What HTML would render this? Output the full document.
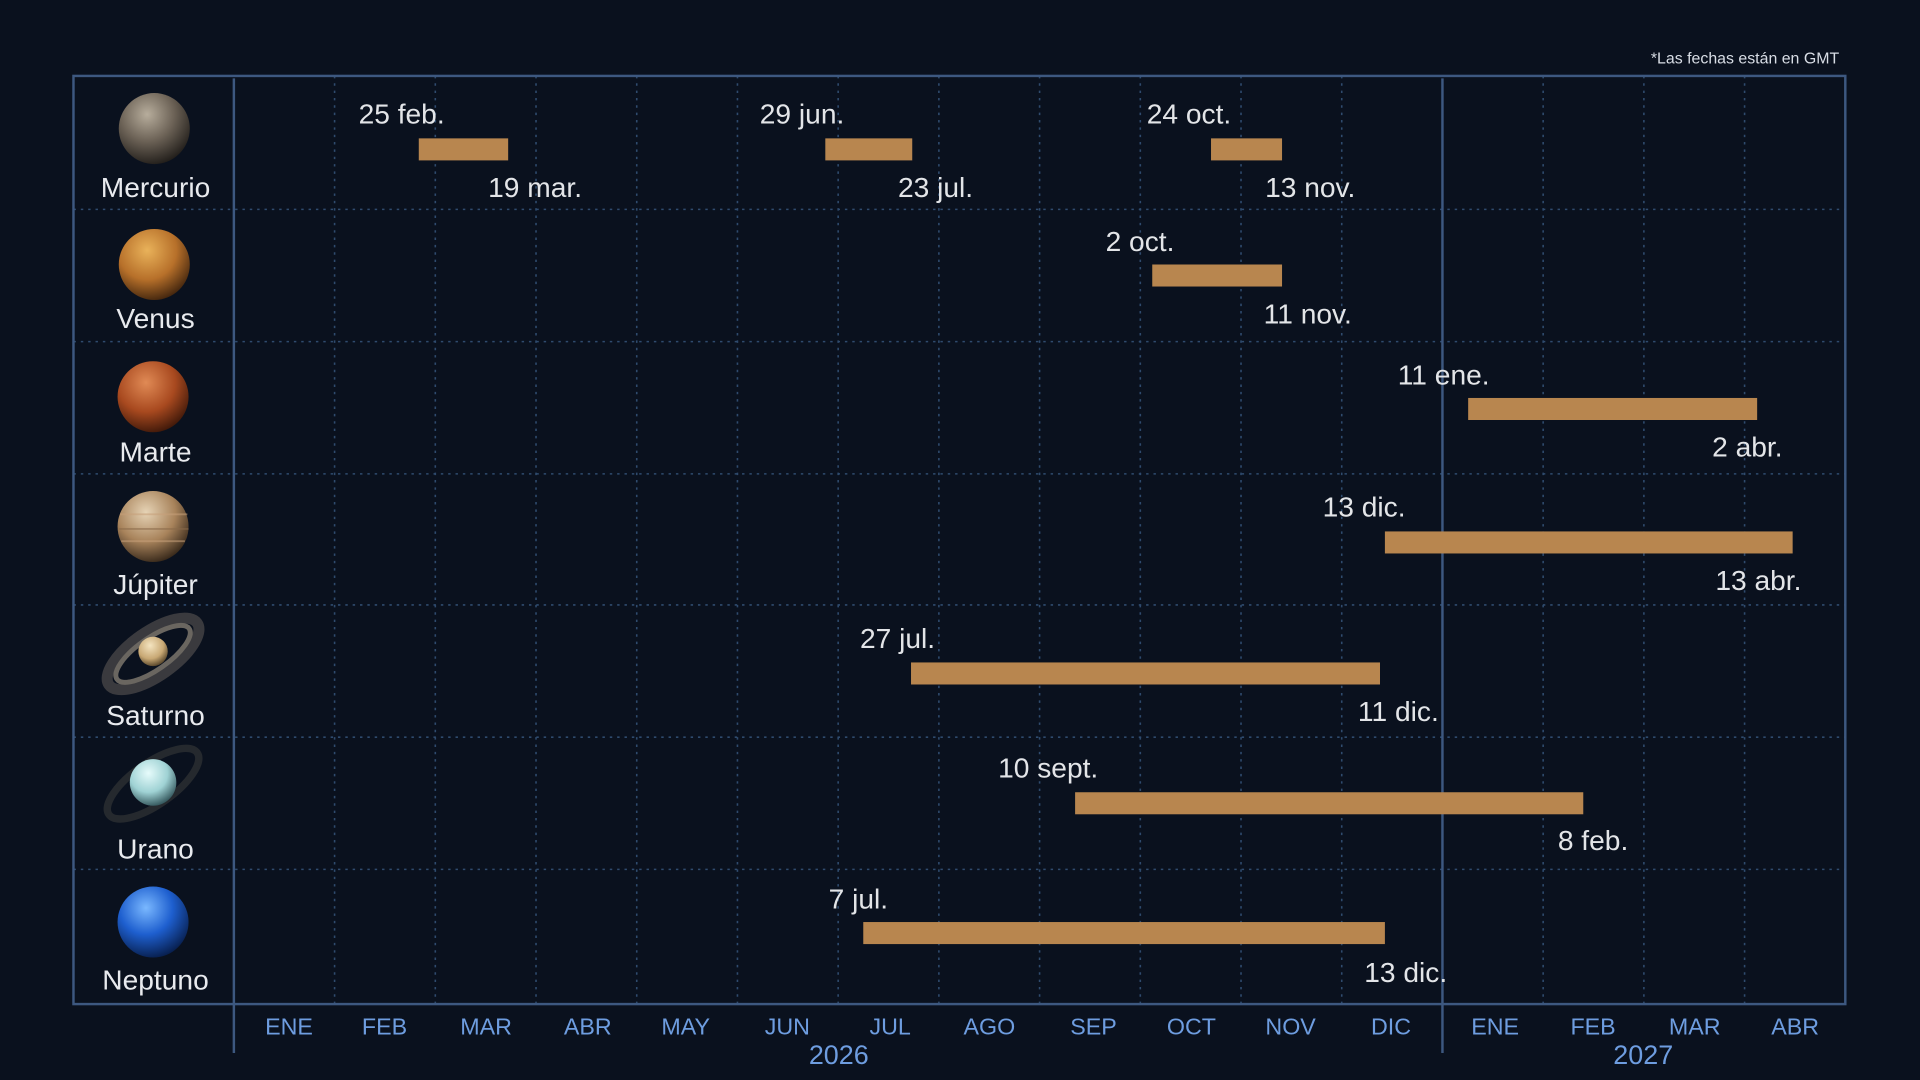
<!DOCTYPE html>
<html><head><meta charset="utf-8"><style>
html,body{margin:0;padding:0;background:#0a111e;}
svg{display:block}
text{font-family:"Liberation Sans",sans-serif;}
</style></head><body>
<svg width="1920" height="1080" viewBox="0 0 1568 882" xmlns="http://www.w3.org/2000/svg">
<defs>
<radialGradient id="gMe" cx="0.4" cy="0.3" r="0.75"><stop offset="0" stop-color="#b7ad9c"/><stop offset="0.5" stop-color="#6d6357"/><stop offset="1" stop-color="#1c1916"/></radialGradient>
<radialGradient id="gVe" cx="0.4" cy="0.3" r="0.75"><stop offset="0" stop-color="#e9b25a"/><stop offset="0.55" stop-color="#b7702a"/><stop offset="1" stop-color="#3a200c"/></radialGradient>
<radialGradient id="gMa" cx="0.4" cy="0.3" r="0.75"><stop offset="0" stop-color="#e08a55"/><stop offset="0.55" stop-color="#a8491f"/><stop offset="1" stop-color="#381508"/></radialGradient>
<radialGradient id="gJu" cx="0.4" cy="0.3" r="0.75"><stop offset="0" stop-color="#e6d3b5"/><stop offset="0.55" stop-color="#a8835b"/><stop offset="1" stop-color="#2e2115"/></radialGradient>
<radialGradient id="gSa" cx="0.4" cy="0.3" r="0.75"><stop offset="0" stop-color="#f4e4c0"/><stop offset="0.6" stop-color="#c8a874"/><stop offset="1" stop-color="#4a3a22"/></radialGradient>
<radialGradient id="gUr" cx="0.4" cy="0.3" r="0.75"><stop offset="0" stop-color="#e6fbfb"/><stop offset="0.55" stop-color="#9fd2d4"/><stop offset="1" stop-color="#2b4c52"/></radialGradient>
<radialGradient id="gNe" cx="0.4" cy="0.3" r="0.75"><stop offset="0" stop-color="#7ab8ff"/><stop offset="0.5" stop-color="#1e5fcf"/><stop offset="1" stop-color="#061a44"/></radialGradient>
</defs>
<rect width="1568" height="882" fill="#0a111e"/>
<text x="1502" y="52" font-size="13" fill="#d8dde5" text-anchor="end">*Las fechas están en GMT</text>
<!-- grid verticals -->
<g stroke="#2f4b6e" stroke-width="1.3" stroke-dasharray="2,4">
<line x1="273.25" y1="62" x2="273.25" y2="820"/><line x1="355.5" y1="62" x2="355.5" y2="820"/><line x1="437.75" y1="62" x2="437.75" y2="820"/><line x1="520" y1="62" x2="520" y2="820"/><line x1="602.25" y1="62" x2="602.25" y2="820"/><line x1="684.5" y1="62" x2="684.5" y2="820"/><line x1="766.75" y1="62" x2="766.75" y2="820"/><line x1="849" y1="62" x2="849" y2="820"/><line x1="931.25" y1="62" x2="931.25" y2="820"/><line x1="1013.5" y1="62" x2="1013.5" y2="820"/><line x1="1095.75" y1="62" x2="1095.75" y2="820"/><line x1="1260.25" y1="62" x2="1260.25" y2="820"/><line x1="1342.5" y1="62" x2="1342.5" y2="820"/><line x1="1424.75" y1="62" x2="1424.75" y2="820"/>
<line x1="60" y1="171" x2="1507" y2="171"/><line x1="60" y1="279" x2="1507" y2="279"/><line x1="60" y1="387" x2="1507" y2="387"/><line x1="60" y1="494" x2="1507" y2="494"/><line x1="60" y1="602" x2="1507" y2="602"/><line x1="60" y1="710" x2="1507" y2="710"/>
</g>
<rect x="60" y="62" width="1447" height="758" fill="none" stroke="#3d5880" stroke-width="2"/>
<line x1="191" y1="64" x2="191" y2="860" stroke="#3d5880" stroke-width="2"/>
<line x1="1178" y1="64" x2="1178" y2="860" stroke="#3d5880" stroke-width="2"/>
<!-- bars -->
<g fill="#b8864f">
<rect x="342" y="113" width="73" height="18"/><rect x="674" y="113" width="71" height="18"/><rect x="989" y="113" width="58" height="18"/>
<rect x="941" y="216" width="106" height="18"/>
<rect x="1199" y="325" width="236" height="18"/>
<rect x="1131" y="434" width="333" height="18"/>
<rect x="744" y="541" width="383" height="18"/>
<rect x="878" y="647" width="415" height="18"/>
<rect x="705" y="753" width="426" height="18"/>
</g>
<g font-size="23" fill="#e3e5e8" text-anchor="middle">
<text x="328" y="101">25 feb.</text><text x="437" y="161">19 mar.</text>
<text x="655" y="101">29 jun.</text><text x="764" y="161">23 jul.</text>
<text x="971" y="101">24 oct.</text><text x="1070" y="161">13 nov.</text>
<text x="931" y="205">2 oct.</text><text x="1068" y="264">11 nov.</text>
<text x="1179" y="314">11 ene.</text><text x="1427" y="373">2 abr.</text>
<text x="1114" y="422">13 dic.</text><text x="1436" y="482">13 abr.</text>
<text x="733" y="529">27 jul.</text><text x="1142" y="589">11 dic.</text>
<text x="856" y="635">10 sept.</text><text x="1301" y="694">8 feb.</text>
<text x="701" y="742">7 jul.</text><text x="1148" y="802">13 dic.</text>
</g>
<!-- planets -->
<circle cx="126" cy="105" r="29" fill="url(#gMe)"/>
<circle cx="126" cy="216" r="29" fill="url(#gVe)"/>
<circle cx="125" cy="324" r="29" fill="url(#gMa)"/>
<circle cx="125" cy="430" r="29" fill="url(#gJu)"/>
<g stroke="#d8c8a8" stroke-width="1.5" fill="none" opacity="0.55">
<line x1="98" y1="420" x2="153" y2="420" stroke="#c7a07a"/><line x1="97" y1="432" x2="154" y2="432" stroke="#8a6a4a"/><line x1="99" y1="442" x2="151" y2="442" stroke="#c7a07a"/>
</g>
<g transform="rotate(-35 125 534)" fill="none">
<ellipse cx="125" cy="534" rx="44" ry="18" stroke="#3a3a3e" stroke-width="9"/>
<ellipse cx="125" cy="534" rx="36" ry="13" stroke="#6a6660" stroke-width="4"/>
</g>
<circle cx="125" cy="532" r="12" fill="url(#gSa)"/>
<g transform="rotate(-35 125 640)" fill="none">
<ellipse cx="125" cy="640" rx="44" ry="17" stroke="#25292e" stroke-width="6"/>
</g>
<circle cx="125" cy="639" r="19" fill="url(#gUr)"/>
<circle cx="125" cy="753" r="29" fill="url(#gNe)"/>
<g font-size="23" fill="#e8eaee" text-anchor="middle">
<text x="127" y="161">Mercurio</text><text x="127" y="268">Venus</text><text x="127" y="377">Marte</text><text x="127" y="485">Júpiter</text><text x="127" y="592">Saturno</text><text x="127" y="701">Urano</text><text x="127" y="808">Neptuno</text>
</g>
<g font-size="19" fill="#6e9de0" text-anchor="middle">
<text x="236" y="845">ENE</text><text x="314" y="845">FEB</text><text x="397" y="845">MAR</text><text x="480" y="845">ABR</text><text x="560" y="845">MAY</text><text x="643" y="845">JUN</text><text x="727" y="845">JUL</text><text x="808" y="845">AGO</text><text x="893" y="845">SEP</text><text x="973" y="845">OCT</text><text x="1054" y="845">NOV</text><text x="1136" y="845">DIC</text><text x="1221" y="845">ENE</text><text x="1301" y="845">FEB</text><text x="1384" y="845">MAR</text><text x="1466" y="845">ABR</text>
<text x="685" y="869" font-size="22">2026</text><text x="1342" y="869" font-size="22">2027</text>
</g>
</svg>
</body></html>
